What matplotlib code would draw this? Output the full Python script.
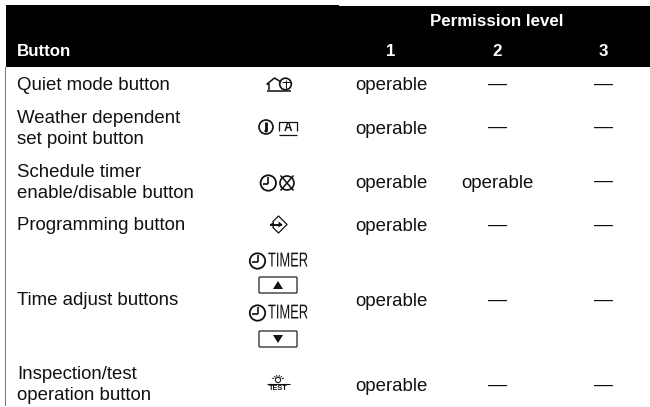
import matplotlib
matplotlib.use('Agg')
import matplotlib.pyplot as plt
from matplotlib.patches import Circle, FancyBboxPatch, Polygon, Rectangle
from matplotlib.patheffects import AbstractPathEffect
from matplotlib.transforms import Affine2D

plt.rcParams['font.family'] = ['Liberation Sans', 'DejaVu Sans']

# table content
levels = ['1', '2', '3']
level_1 = ['operable'] * 6
level_2 = ['—', '—', 'operable', '—', '—', '—']
level_3 = ['—'] * 6
button_names = [
    'Quiet mode button',
    'Weather dependent\nset point button',
    'Schedule timer\nenable/disable button',
    'Programming button',
    'Time adjust buttons',
    'Inspection/test\noperation button',
]

# layout in pixels
name_y = [85, 129, 183, 225.5, 300.5, 385]
value_y = [84, 127.5, 181.5, 225, 300, 385]
level_x = [391, 497, 603]
FS = 13.4
BOLD_FS = 12.2
DASH_FS = 13.7

fig = plt.figure(figsize=(6.5, 4.07), dpi=100)
ax = fig.add_axes([0, 0, 1, 1])
ax.set_xlim(0, 650)
ax.set_ylim(407, 0)
ax.axis('off')


class Squeeze(AbstractPathEffect):
    # no narrow font installed, so squeeze the glyph outlines sideways
    def __init__(self, sx):
        super().__init__()
        self.sx = sx

    def draw_path(self, renderer, gc, tpath, affine, rgbFace=None):
        renderer.draw_path(gc, tpath, Affine2D().scale(self.sx, 1) + affine, rgbFace)


def line(xs, ys, lw=1.0, color='#111111'):
    ax.plot(xs, ys, color=color, lw=lw, solid_capstyle='butt')


def ring(x, y, r, lw=1.2):
    ax.add_patch(Circle((x, y), r, fill=False, ec='#111111', lw=lw))


def clock(x, y, r):
    ring(x, y, r, lw=1.3)
    line([x, x], [y - r + 2, y + 1], lw=1.2)
    line([x - r + 2, x], [y + 1, y + 1], lw=1.2)


def timer(y):
    clock(257.5, y, 7.7)
    ax.text(268, y, 'TIMER', fontsize=14.5, ha='left', va='center', color='#111111',
            path_effects=[Squeeze(0.64)])


def key(y, up=True):
    ax.add_patch(FancyBboxPatch((259, y - 8), 38, 16, boxstyle='round,pad=0,rounding_size=1',
                                fill=False, ec='#222222', lw=0.9))
    d = -4 if up else 4
    ax.add_patch(Polygon([(273, y - d), (283, y - d), (278, y + d)], fc='#111111', ec='none'))


# header band and left rule
ax.add_patch(Rectangle((6, 5), 333, 2, fc='black', ec='none'))
ax.add_patch(Rectangle((6, 6), 644, 61, fc='black', ec='none'))
ax.add_patch(Rectangle((5, 67), 1.3, 339, fc='#777777', ec='none'))

ax.text(17, 51, 'Button', color='white', fontsize=BOLD_FS, fontweight='bold', ha='left', va='center')
ax.text(497, 21, 'Permission level', color='white', fontsize=BOLD_FS, fontweight='bold',
        ha='center', va='center')
for x, lab in zip(level_x, levels):
    ax.text(x, 51, lab, color='white', fontsize=BOLD_FS, fontweight='bold', ha='center', va='center')

for y, name in zip(name_y, button_names):
    ax.text(17, y, name, fontsize=FS, ha='left', va='center', color='#111111', linespacing=1.3)

for x, col in zip(level_x, [level_1, level_2, level_3]):
    for y, val in zip(value_y, col):
        if val == '—':
            ax.text(x, y, val, fontsize=DASH_FS, ha='center', va='center', color='#111111')
        else:
            ax.text(x, y + 1.5, val, fontsize=FS, ha='center', va='center', color='#111111')

# quiet mode icon
line([267, 291], [90.5, 90.5], lw=1.1)
line([269, 269, 267, 274.5, 281], [90, 84, 84, 78, 82], lw=1.1)
ring(285.5, 84, 5.8)
line([285.5, 285.5], [80, 89], lw=0.7)
line([281.5, 289.5], [82, 82], lw=0.7)

# weather dependent icon
ring(266, 127, 7)
line([266, 266], [122, 131], lw=2)
ax.add_patch(Circle((266, 131), 1.6, fc='#111111', ec='none'))
line([279, 279, 296.5, 296.5], [131, 122, 122, 131], lw=0.9)
line([279, 296.5], [135, 135], lw=0.9)
ax.text(287.5, 128, 'A', fontsize=8.5, fontweight='bold', ha='center', va='center', color='#111111')

# schedule timer icon
clock(268.3, 183, 7.7)
ring(287, 183, 7)
line([280.5, 293.5], [175.5, 190.5], lw=1.1)
line([293.5, 280.5], [175.5, 190.5], lw=1.1)

# programming icon
line([272.5, 278.5, 287, 278.5, 272.5], [222, 216, 224.5, 233, 227], lw=0.9)
line([270, 282], [224.5, 224.5], lw=1.4)
ax.add_patch(Polygon([(270, 224.5), (274, 221.5), (274, 227.5)], fc='#111111', ec='none'))
ax.add_patch(Polygon([(282.5, 224.5), (278.5, 221.5), (278.5, 227.5)], fc='#111111', ec='none'))

# time adjust icons
timer(261)
key(285, up=True)
timer(313)
key(339, up=False)

# inspection icon
line([267, 289.5], [384, 384], lw=0.8)
ax.add_patch(Circle((278, 380), 2.6, fill=False, ec='#222222', lw=0.8))
for dx, dy in [(-6, -2), (-4, -4), (-1.5, -5), (1.5, -5), (4, -4), (6, -2)]:
    line([278 + dx * 0.6, 278 + dx], [380 + dy * 0.6, 380 + dy], lw=0.6)
ax.text(278, 388.5, 'TEST', fontsize=5.2, fontweight='bold', ha='center', va='center', color='#111111')

plt.savefig('out.png', dpi=100)
